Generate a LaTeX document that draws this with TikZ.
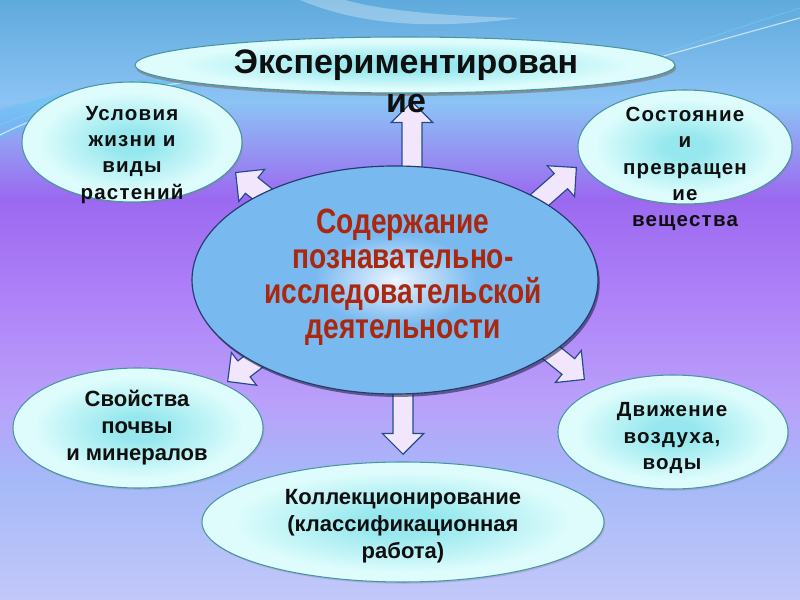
\documentclass[tikz,border=0pt]{standalone}
\usepackage{fontspec}
\setmainfont{Liberation Sans}
\newfontfamily\narrowsans[FakeStretch=0.8]{Liberation Sans}
\newfontfamily\widesans[LetterSpace=6]{Liberation Sans}
\usepackage{xcolor}
\definecolor{bgtop}{RGB}{95, 170, 220}
\definecolor{bgsky}{RGB}{140, 195, 245}
\definecolor{bgviolet}{RGB}{155, 105, 240}
\definecolor{bglilac}{RGB}{175, 130, 248}
\definecolor{bgpale}{RGB}{185, 160, 250}
\definecolor{bglow}{RGB}{165, 185, 248}
\definecolor{bgbot}{RGB}{195, 200, 250}
\definecolor{satin}{RGB}{150, 232, 238}
\definecolor{satout}{RGB}{222, 252, 252}
\definecolor{satedge}{RGB}{70, 150, 165}
\definecolor{hubfill}{RGB}{120, 185, 240}
\definecolor{hubglow}{RGB}{235, 245, 255}
\definecolor{hubedge}{RGB}{35, 60, 110}
\definecolor{hubshadow}{RGB}{20, 30, 60}
\definecolor{hubred}{RGB}{170, 40, 15}
\definecolor{arrfill}{RGB}{242, 230, 252}
\definecolor{arrline}{RGB}{35, 75, 140}
\definecolor{ink}{RGB}{15, 15, 15}
\usepackage{tikz}
\usetikzlibrary{shapes,arrows.meta,positioning,backgrounds,calc,shadows}
\pgfdeclarelayer{backdrop}
\pgfsetlayers{backdrop,background,main}
\pgfdeclareverticalshading{bgfade}{100bp}{color(0bp)=(bgbot); color(25bp)=(bgbot); color(35bp)=(bglow); color(41.5bp)=(bgpale); color(50bp)=(bglilac); color(58.5bp)=(bgviolet); color(66.5bp)=(bgsky); color(75bp)=(bgtop); color(100bp)=(bgtop)}
\pgfdeclareradialshading{satglow}{\pgfpoint{0bp}{0bp}}{color(0bp)=(satin); color(5bp)=(satin); color(21bp)=(satout); color(25bp)=(satout); color(50bp)=(satout)}
\pgfdeclareradialshading{hubglowing}{\pgfpoint{0bp}{0bp}}{color(0bp)=(hubglow); color(10bp)=(hubfill); color(50bp)=(hubfill)}

\begin{document}
\begin{tikzpicture}[
  x=0.03cm, y=-0.03cm,
  theme/.style={ellipse, draw=satedge, line width=0.9pt, inner sep=0pt, shade, shading=satglow, drop shadow={shadow xshift=1pt, shadow yshift=-1.5pt, opacity=0.3}},
  titleshape/.style={theme, drop shadow={shadow xshift=1pt, shadow yshift=-2.5pt, opacity=0.7}},
  hub/.style={ellipse, draw=hubedge, line width=1pt, inner sep=0pt, shade, shading=hubglowing, drop shadow={shadow xshift=1.5pt, shadow yshift=-2.5pt, opacity=0.55, fill=hubshadow}},
  lbl/.style={align=center, text=ink, font=\widesans\bfseries\fontsize{17.5}{22.3}\selectfont},
  lblb/.style={align=center, text=ink, font=\bfseries\fontsize{18.8}{23}\selectfont},
  titletext/.style={align=center, text=ink, font=\bfseries\fontsize{29}{33.3}\selectfont},
  hubtext/.style={align=center, text=hubred, font=\narrowsans\bfseries\fontsize{30}{30}\selectfont},
  blockarr/.style={single arrow, draw=arrline, fill=arrfill, line width=1pt, inner xsep=0pt, inner ysep=8.1pt, single arrow head extend=9pt, single arrow tip angle=90, sloped, allow upside down, anchor=tip, minimum height=51pt}
]
\useasboundingbox (0,0) rectangle (800,600);
\begin{pgfonlayer}{backdrop}
\shade[shading=bgfade] (0,0) rectangle (800,600);
\fill[white, opacity=0.3] (300,0) .. controls (360,25) and (430,30) .. (520,18) .. controls (440,16) and (380,10) .. (345,0) -- cycle;
\fill[cyan!70!white, opacity=0.35] (0,140) .. controls (80,100) and (180,80) .. (300,72) .. controls (180,70) and (80,85) .. (0,110) -- cycle;
\draw[white, opacity=0.6, line width=1pt] (0,135) .. controls (80,95) and (180,78) .. (300,72);
\draw[cyan!50!white, opacity=0.7] (0,125) .. controls (90,88) and (190,70) .. (320,64);
\draw[white, opacity=0.6, line width=1pt] (560,85) .. controls (650,60) and (720,40) .. (800,18);
\draw[cyan!50!white, opacity=0.7] (580,80) .. controls (670,52) and (730,30) .. (800,8);
\end{pgfonlayer}

\node[hub, minimum width=12.18cm, minimum height=6.84cm] (centr) at (395,280) {};
\node[titleshape, minimum width=16.2cm, minimum height=1.68cm] (exper) at (405,65) {};
\node[theme, minimum width=6.6cm, minimum height=3.6cm] (uslov) at (132,142) {};
\node[theme, minimum width=6.42cm, minimum height=3.42cm] (sost) at (685,147) {};
\node[theme, minimum width=7.5cm, minimum height=3.6cm] (svoist) at (138,428) {};
\node[theme, minimum width=6.9cm, minimum height=3.42cm] (dvizh) at (673,432) {};
\node[theme, minimum width=12.06cm, minimum height=3.6cm] (kollek) at (403,522) {};

\coordinate (upTip) at (412,101);
\coordinate (downTip) at (403,455);
\coordinate (ulTip) at (235,172);
\coordinate (urTip) at (577,167);
\coordinate (dlTip) at (227,382);
\coordinate (drTip) at (585,380);

\begin{pgfonlayer}{background}
\path (upTip |- centr) -- (upTip) node[blockarr, at end, minimum height=72pt] (aUp) {};
\path (downTip |- centr) -- (downTip) node[blockarr, at end, minimum height=72pt] (aDown) {};
\path (centr.147) -- (ulTip) node[blockarr, at end] (aUl) {};
\path (centr.29) -- (urTip) node[blockarr, at end] (aUr) {};
\path (centr.210) -- (dlTip) node[blockarr, at end] (aDl) {};
\path (centr.335) -- (drTip) node[blockarr, at end] (aDr) {};
\end{pgfonlayer}

\node[hubtext] (centrT) at (403,277) {Содержание\\познавательно-\\исследовательской\\деятельности};
\node[titletext] (experT) at (406,81) {Экспериментирован\\ие};
\node[lbl] (uslovT) at (132,155) {Условия\\жизни и\\виды\\растений};
\node[lbl] (sostT) at (685,169) {Состояние\\и\\превращен\\ие\\вещества};
\node[lblb] (svoistT) at (137,428) {Свойства\\почвы\\и минералов};
\node[lbl] (dvizhT) at (672,438) {Движение\\воздуха,\\воды};
\node[lblb] (kollekT) at (403,526) {Коллекционирование\\(классификационная\\работа)};
\end{tikzpicture}
\end{document}
